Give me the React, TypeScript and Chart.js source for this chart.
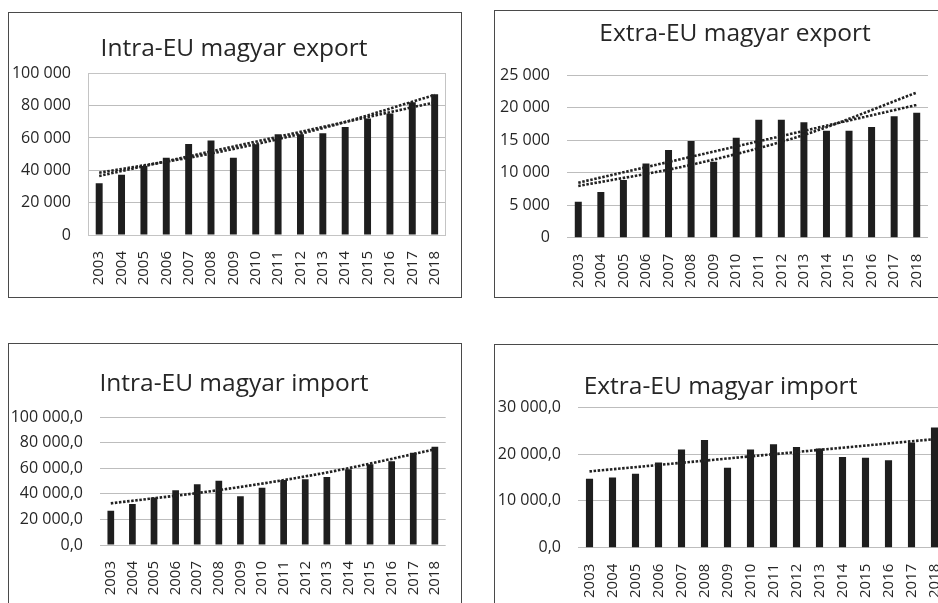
import React, { useEffect, useRef } from "react";
import { Chart, registerables } from "chart.js";

Chart.register(...registerables);

// ---------- data ----------
const years = ["2003", "2004", "2005", "2006", "2007", "2008", "2009", "2010", "2011", "2012", "2013", "2014", "2015", "2016", "2017", "2018"];

const intraExport = [32000, 37300, 42700, 47800, 56300, 58400, 47800, 56100, 62300, 62300, 62900, 66800, 72000, 75100, 82100, 87000];
const extraExport = [5530, 7020, 8860, 11420, 13470, 14860, 11680, 15370, 18140, 18140, 17730, 16440, 16440, 17000, 18650, 19210];
const intraImport = [26900, 32100, 37100, 42800, 47500, 50400, 38100, 44900, 50900, 51400, 53300, 59300, 63200, 65500, 72300, 77000];
const extraImport = [14750, 15000, 15800, 18200, 21000, 23000, 17100, 21000, 22100, 21500, 21200, 19400, 19200, 18700, 22500, 25700];

// trend lines at a few years (null = not read)
const intraExportLinearTrend = [36500, null, null, null, null, null, null, null, null, null, null, null, null, null, null, 82000];
const intraExportExpTrend = [38500, null, null, null, null, 50400, null, null, null, null, 66100, null, null, null, null, 86600];
const extraExportLinearTrend = [8450, null, null, null, null, null, null, null, null, null, null, null, null, null, null, 20400];
const extraExportExpTrend = [7940, null, null, null, null, 11200, null, null, null, null, 15800, null, null, null, null, 22300];
const intraImportExpTrend = [32600, null, null, null, null, 43000, null, null, null, null, 56800, null, null, null, null, 74900];
const extraImportLinearTrend = [16300, null, null, null, null, null, null, null, null, null, null, null, null, null, null, 23200];

// tick labels
const yTicksIntraExport = ["0", "20 000", "40 000", "60 000", "80 000", "100 000"];
const yTicksExtraExport = ["0", "5 000", "10 000", "15 000", "20 000", "25 000"];
const yTicksIntraImport = ["0,0", "20 000,0", "40 000,0", "60 000,0", "80 000,0", "100 000,0"];
const yTicksExtraImport = ["0,0", "10 000,0", "20 000,0", "30 000,0"];

const titles = [
  "Intra-EU magyar export",
  "Extra-EU magyar export",
  "Intra-EU magyar import",
  "Extra-EU magyar import",
];

// ---------- styling ----------
const FONT = "'Open Sans', Lato, sans-serif";
const TEXT = "#262626";
const GRID = "#bdbdbd";
const BAR = "#1e1e1e";

type Spec = {
  box: { x: number; y: number; w: number; h: number };
  plot: { l: number; r: number; t: number; b: number };
  title: { text: string; cx: number; cy: number; size: number };
  yMax: number;
  yStep: number;
  yLabels: string[];
  bars: number[];
  trends: (number | null)[][];
  frame?: boolean;
};

const specs: Spec[] = [
  {
    box: { x: 8, y: 12, w: 454, h: 286 },
    plot: { l: 88, r: 450, t: 73.3, b: 235 },
    title: { text: titles[0], cx: 234, cy: 48.6, size: 24.5 },
    yMax: 100000,
    yStep: 20000,
    yLabels: yTicksIntraExport,
    bars: intraExport,
    trends: [intraExportLinearTrend, intraExportExpTrend],
    frame: true,
  },
  {
    box: { x: 494, y: 10, w: 497, h: 288 },
    plot: { l: 567, r: 928, t: 75, b: 237.7 },
    title: { text: titles[1], cx: 735, cy: 34.5, size: 24.5 },
    yMax: 25000,
    yStep: 5000,
    yLabels: yTicksExtraExport,
    bars: extraExport,
    trends: [extraExportLinearTrend, extraExportExpTrend],
  },
  {
    box: { x: 8, y: 343, w: 454, h: 300 },
    plot: { l: 100, r: 457, t: 417.3, b: 545 },
    title: { text: titles[2], cx: 234, cy: 384, size: 24.5 },
    yMax: 100000,
    yStep: 20000,
    yLabels: yTicksIntraImport,
    bars: intraImport,
    trends: [intraImportExpTrend],
  },
  {
    box: { x: 494, y: 344, w: 497, h: 300 },
    plot: { l: 578, r: 946, t: 407.3, b: 547.7 },
    title: { text: titles[3], cx: 720, cy: 387, size: 24.5 },
    yMax: 30000,
    yStep: 10000,
    yLabels: yTicksExtraImport,
    bars: extraImport,
    trends: [extraImportLinearTrend],
  },
];

const framePlugin = {
  id: "plotFrame",
  afterDraw(chart: any) {
    const { ctx, chartArea } = chart;
    ctx.save();
    ctx.strokeStyle = "#c4c4c4";
    ctx.lineWidth = 1;
    const l = Math.round(chartArea.left) + 0.5;
    const r = Math.round(chartArea.right) - 0.5;
    const t = Math.round(chartArea.top) + 0.5;
    const b = Math.round(chartArea.bottom) + 0.5;
    ctx.strokeRect(l, t, r - l, b - t);
    ctx.restore();
  },
};

function Panel({ spec }: { spec: Spec }) {
  const ref = useRef<HTMLCanvasElement | null>(null);
  const ox = spec.box.x + 1;
  const oy = spec.box.y + 1;
  const W = spec.box.w - 2;
  const H = spec.box.h - 2;

  useEffect(() => {
    if (!ref.current) return;
    const left = spec.plot.l - ox;
    const right = spec.plot.r - ox;
    const top = spec.plot.t - oy;
    const bottom = spec.plot.b - oy;
    // title is centred over [0, W - pr]; the plot ends `extra` px before that
    const titleRight = 2 * (spec.title.cx - ox);
    const extra = Math.max(0, titleRight - right);
    const pr = W - right - extra;
    const yw = left;
    const xh = H - bottom;
    const lh = spec.title.size * 1.2;
    const tcy = spec.title.cy - oy;
    const padTop = tcy - lh / 2;
    const padBottom = top - padTop - lh;

    const datasets: any[] = spec.trends.map((t) => ({
      type: "line",
      data: t,
      yAxisID: "y",
      borderColor: "#222222",
      borderWidth: 2.6,
      borderDash: [2.5, 1.6],
      pointRadius: 0,
      spanGaps: true,
      cubicInterpolationMode: "monotone",
      fill: false,
      order: 0,
    }));
    datasets.push({
      type: "bar",
      data: spec.bars,
      yAxisID: "y",
      backgroundColor: BAR,
      barPercentage: 0.31,
      categoryPercentage: 1,
      order: 1,
    });

    const chart = new Chart(ref.current, {
      type: "bar",
      data: { labels: years, datasets },
      options: {
        responsive: false,
        animation: false,
        events: [],
        layout: { padding: { left: 0, right: pr, top: 0, bottom: 0 } },
        plugins: {
          legend: { display: false },
          tooltip: { enabled: false },
          title: {
            display: true,
            text: spec.title.text,
            color: TEXT,
            font: { family: FONT, size: spec.title.size, weight: "normal", lineHeight: 1.2 },
            padding: { top: padTop, bottom: padBottom },
          },
        },
        scales: {
          x: {
            grid: { display: false },
            border: { display: false },
            ticks: {
              autoSkip: false,
              maxRotation: 90,
              minRotation: 90,
              padding: 8,
              color: TEXT,
              font: { family: FONT, size: 15 },
            },
            afterFit: (s: any) => {
              s.height = xh;
            },
          },
          y: {
            min: 0,
            max: spec.yMax,
            grid: { color: GRID, drawTicks: false, lineWidth: 1 },
            border: { display: false },
            ticks: {
              stepSize: spec.yStep,
              padding: 17,
              color: TEXT,
              font: { family: FONT, size: 16 },
              callback: (_v: any, i: number) => spec.yLabels[i],
            },
            afterFit: (s: any) => {
              s.width = yw;
            },
          },
          spacer: {
            type: "linear",
            position: "right",
            display: extra > 0,
            grid: { display: false },
            border: { display: false },
            ticks: { display: false },
            afterFit: (s: any) => {
              s.width = extra;
            },
          },
        },
      } as any,
      plugins: spec.frame ? [framePlugin] : [],
    });
    return () => chart.destroy();
  }, []);

  return (
    <div
      style={{
        position: "absolute",
        left: spec.box.x,
        top: spec.box.y,
        width: spec.box.w - 2,
        height: spec.box.h - 2,
        border: "1px solid #4a4a4a",
        background: "#ffffff",
      }}
    >
      <canvas ref={ref} width={W} height={H} style={{ display: "block", width: W, height: H }} />
    </div>
  );
}

export default function App() {
  return (
    <div
      style={{
        position: "fixed",
        left: 0,
        top: 0,
        width: 938,
        height: 603,
        overflow: "hidden",
        background: "#ffffff",
      }}
    >
      {specs.map((s, i) => (
        <Panel key={i} spec={s} />
      ))}
    </div>
  );
}
